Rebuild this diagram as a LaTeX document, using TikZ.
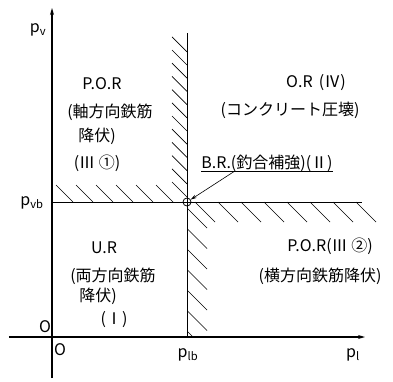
\documentclass[tikz,border=0pt]{standalone}
\usepackage{fontspec}
\setmainfont{Noto Sans CJK JP}
\usetikzlibrary{arrows.meta,positioning,calc}

\begin{document}
\begin{tikzpicture}[x=1pt, y=1pt,
  axis/.style={line width=1.1pt, -{Stealth[length=7pt, width=4pt]}},
  guide/.style={line width=0.7pt},
  hatch/.style={line width=0.7pt},
  lbl/.style={inner sep=0pt, font=\fontsize{16}{19}\selectfont},
  arr/.style={-{Stealth[length=6pt, width=3.5pt]}, line width=0.6pt}
]
  \useasboundingbox (-52,-44) rectangle (341,337);
  \coordinate (yb) at (0,-41);
  \coordinate (yt) at (0,329);
  \coordinate (xl) at (-43,0);
  \coordinate (xr) at (313,0);
  \coordinate (lb) at (135,0);
  \coordinate (lt) at (135,304);
  \coordinate (vl) at (0,135);
  \coordinate (vr) at (310,135);

  \draw[axis] (yb) -- (yt);
  \draw[axis] (xl) -- (xr);
  \draw[guide] (lb) -- (lt);
  \draw[guide] (vl) -- (vr);
  \node[draw, circle, minimum size=8pt, inner sep=0pt, line width=0.8pt] (bp) at (135,135) {};

  % hatching
  \foreach \k in {0,...,11}
    \draw[hatch] (120,155+13.2*\k) -- (135,140+13.2*\k);
  \foreach \k in {0,...,5}
    \draw[hatch] (4+20*\k,152) -- (21+20*\k,135);
  \foreach \k in {0,...,7}
    \draw[hatch] (143+23*\k,135) -- (163+23*\k,115);
  \begin{scope}
    \clip (135,0) rectangle (160,135);
    \foreach \k in {0,...,6}
      \draw[hatch] (135,129-20.5*\k) -- (155,109-20.5*\k);
  \end{scope}

  % axis labels
  \node[lbl] (pv) at (-14,307) {p\textsubscript{v}};
  \node[lbl] (pvb) at (-20,134) {p\textsubscript{vb}};
  \node[lbl] (o1) at (-7,10) {O};
  \node[lbl] (o2) at (8,-13) {O};
  \node[lbl] (plb) at (136,-18) {p\textsubscript{lb}};
  \node[lbl] (pl) at (301,-18) {p\textsubscript{l}};

  % regions
  \node[lbl] (por1) at (50,253) {P.O.R};
  \node[lbl] (por1a) at (58,225) {(軸方向鉄筋};
  \node[lbl] (por1b) at (45,201) {降伏)};
  \node[lbl] (por1c) at (45,174) {(Ⅲ ①)};

  \node[lbl] (or) at (264,254) {O.R \,(Ⅳ)};
  \node[lbl] (ora) at (238,227) {(コンクリート圧壊)};

  \node[lbl] (br) at (215,174) {B.R.(釣合補強)(Ⅱ)};
  \draw[guide] (br.south west) -- (br.south east);
  \coordinate (brtail) at ($(br.south west)!0.25!(br.south east)$);
  \draw[arr] (brtail) -- (bp);

  \node[lbl] (ur) at (52,89) {U.R};
  \node[lbl] (ura) at (61,61) {(両方向鉄筋};
  \node[lbl] (urb) at (46,41) {降伏)};
  \node[lbl] (urc) at (62,17) {(Ⅰ)};

  \node[lbl] (por2) at (278,91) {P.O.R(Ⅲ ②)};
  \node[lbl] (por2a) at (268,61) {(横方向鉄筋降伏)};
\end{tikzpicture}
\end{document}
